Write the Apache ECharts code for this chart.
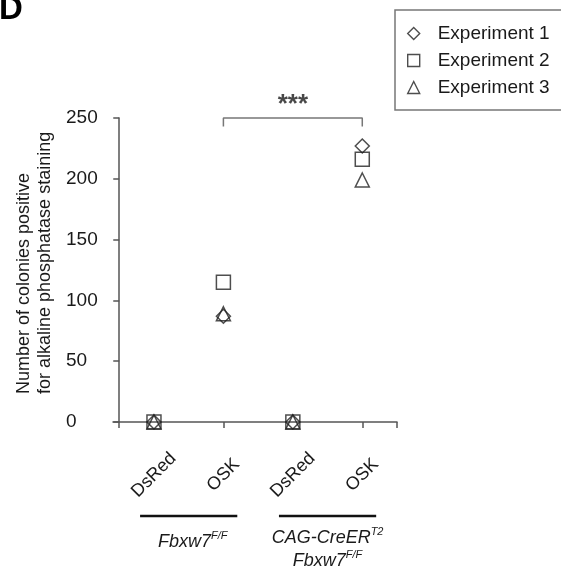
<!DOCTYPE html>
<html lang="en">
<head>
<meta charset="UTF-8">
<title>Colonies positive for alkaline phosphatase</title>
<style>html,body{margin:0;padding:0;background:#fff;}</style>
</head>
<body>
<div id="main" style="width:561px;height:574px;"></div>
<script src="https://cdn.jsdelivr.net/npm/echarts@6/dist/echarts.min.js"></script>
<script>
// data
var categories = ['DsRed', 'OSK', 'DsRed', 'OSK'];
var seriesNames = ['Experiment 1', 'Experiment 2', 'Experiment 3'];
var exp1 = [0, 87, 0, 227];
var exp2 = [0, 115, 0, 216];
var exp3 = [0, 89, 0, 199];
var yTicks = [0, 50, 100, 150, 200, 250];
// genotype groups: [first category, last category + 1], label lines as [main, superscript]
var groupSpans = [[0, 2], [2, 4]];
var groupLabels = [
    [['Fbxw7', 'F/F']],
    [['CAG-CreER', 'T2'], ['Fbxw7', 'F/F']]
];
var bracket = { from: 1, to: 3, level: 250, drop: 7, text: '***' };
var yTitle = 'Number of colonies positive\nfor alkaline phosphatase staining';

var FONT = 'Liberation Sans, Arial, sans-serif';
var INK = '#222';
var TXT = '#1a1a1a';
var AXIS = '#555';

var chart = echarts.init(document.getElementById('main'));

function pts(vals) {
    return vals.map(function (v, i) { return [i + 0.5, v]; });
}

var symbols = ['diamond', 'rect', 'triangle'];
var series = [exp1, exp2, exp3].map(function (vals, k) {
    return {
        name: seriesNames[k],
        type: 'scatter',
        symbol: symbols[k],
        symbolSize: 14,
        clip: false,
        itemStyle: { color: 'rgba(255,255,255,0)', borderColor: INK, borderWidth: 1.5 },
        data: pts(vals),
        z: 3
    };
});

// significance bracket between the two OSK columns
var bx1 = bracket.from + 0.5, bx2 = bracket.to + 0.5;
series.push({
    type: 'line',
    silent: true,
    clip: false,
    symbol: 'none',
    lineStyle: { color: '#777', width: 1.5 },
    data: [[bx1, bracket.level - bracket.drop], [bx1, bracket.level], [bx2, bracket.level], [bx2, bracket.level - bracket.drop]]
});
series.push({
    type: 'scatter',
    silent: true,
    clip: false,
    symbolSize: 0,
    data: [[(bx1 + bx2) / 2, bracket.level]],
    label: {
        show: true, position: 'top', distance: 0, formatter: bracket.text,
        fontFamily: FONT, fontSize: 26, fontWeight: 'bold', color: TXT
    }
});

chart.setOption({
    animation: false,
    grid: { left: 113, right: 164, top: 118, bottom: 152 },
    legend: {
        data: seriesNames,
        orient: 'vertical',
        left: 395,
        top: 10,
        padding: [14, 40, 13, 12],
        itemWidth: 12,
        itemHeight: 12,
        itemGap: 8,
        borderColor: '#777',
        borderWidth: 1.5,
        selectedMode: false,
        itemStyle: { borderWidth: 1.4, borderColor: INK },
        textStyle: { fontFamily: FONT, fontSize: 19, color: TXT, lineHeight: 18, padding: [0, 0, 0, 13] }
    },
    xAxis: {
        type: 'value',
        min: -0.09,
        max: 4,
        axisLine: { onZero: true, lineStyle: { color: AXIS, width: 1.5 } },
        axisTick: { show: true, customValues: [0, 1.5, 3.5, 4], length: 6, lineStyle: { color: AXIS, width: 1.5 } },
        axisLabel: {
            customValues: [0.5, 1.5, 2.5, 3.5],
            formatter: function (v) { return categories[Math.floor(v)]; },
            rotate: 45,
            align: 'center',
            verticalAlign: 'middle',
            margin: 53,
            fontFamily: FONT,
            fontSize: 18,
            color: TXT
        },
        splitLine: { show: false }
    },
    yAxis: {
        type: 'value',
        min: 0,
        max: 250,
        interval: 50,
        axisLine: { show: true, onZero: true, lineStyle: { color: AXIS, width: 1.5 } },
        axisTick: { show: true, customValues: yTicks, length: 6, lineStyle: { color: AXIS, width: 1.5 } },
        axisLabel: { customValues: yTicks, align: 'left', fontFamily: FONT, fontSize: 19, color: TXT, margin: 47 },
        splitLine: { show: false }
    },
    series: series
});

// annotations placed through the grid's own coordinate system
function px(x, y) { return chart.convertToPixel({ gridIndex: 0 }, [x, y]); }
var baseY = px(0, 0)[1];
var graphics = [];

graphics.push({
    type: 'text', x: -1, y: -7,
    style: { text: 'D', fontFamily: FONT, fontSize: 33, fontWeight: 'bold', fill: '#000' }
});

graphics.push({
    type: 'text', x: 35, y: baseY - 28, rotation: Math.PI / 2,
    style: {
        text: yTitle, fontFamily: FONT, fontSize: 18, lineHeight: 21,
        align: 'left', verticalAlign: 'middle', fill: TXT
    }
});

groupSpans.forEach(function (span, g) {
    var xa = px(span[0] + 0.3, 0)[0];
    var xb = px(span[1] - 0.3, 0)[0];
    graphics.push({
        type: 'line',
        shape: { x1: xa, y1: baseY + 94, x2: xb, y2: baseY + 94 },
        style: { stroke: '#111', lineWidth: 2.5 }
    });
    var lines = groupLabels[g];
    var txt = lines.map(function (l) { return '{i|' + l[0] + '}{s|' + l[1] + '}'; }).join('\n');
    var cx = px((span[0] + span[1]) / 2, 0)[0];
    graphics.push({
        type: 'text',
        x: cx + (lines.length === 1 ? 4 : 0),
        y: baseY + (lines.length === 1 ? 108 : 104),
        style: {
            text: txt,
            align: 'center',
            verticalAlign: 'top',
            lineHeight: 23,
            fill: TXT,
            rich: {
                i: { fontFamily: FONT, fontStyle: 'italic', fontSize: 18, lineHeight: 23, fill: TXT },
                s: { fontFamily: FONT, fontStyle: 'italic', fontSize: 11, verticalAlign: 'top', lineHeight: 23, fill: TXT }
            }
        }
    });
});

chart.setOption({ graphic: graphics });
</script>
</body>
</html>
